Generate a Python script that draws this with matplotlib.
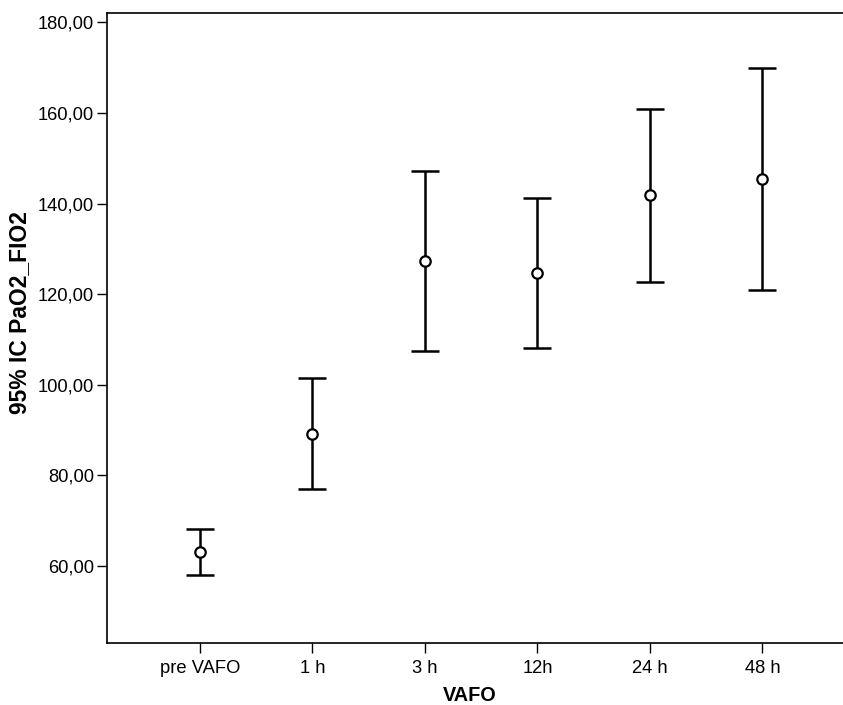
import numpy as np
import matplotlib.pyplot as plt

# categories and 95% CI values
groups = ['pre VAFO', '1 h', '3 h', '12h', '24 h', '48 h']
means = [63.1, 89.2, 127.3, 124.7, 141.8, 145.4]
lower = [58.0, 77.0, 107.4, 108.1, 122.7, 120.9]
upper = [68.1, 101.4, 147.1, 141.2, 160.8, 169.9]
yticks = [60, 80, 100, 120, 140, 160, 180]

plt.rcParams['font.family'] = ['Liberation Sans', 'DejaVu Sans']

fig = plt.figure(figsize=(8.43, 7.05), dpi=100)
ax = fig.add_axes([0.1266, 0.0884, 0.8734, 0.8927])

x = np.arange(len(groups))
m = np.array(means)
err = [m - np.array(lower), np.array(upper) - m]
ax.errorbar(x, m, yerr=err, fmt='none', ecolor='black', elinewidth=1.8,
            capsize=10, capthick=1.8)
ax.plot(x, m, 'o', markersize=7.5, markerfacecolor='white',
        markeredgecolor='black', markeredgewidth=1.6, zorder=3)

ax.set_xlim(-0.829, 5.716)
ax.set_ylim(43.07, 182.0)
ax.set_xticks(x)
ax.set_xticklabels(groups)
ax.set_yticks(yticks)
ax.set_yticklabels(['%d,00' % v for v in yticks])

ax.tick_params(axis='both', length=7, width=1, labelsize=13.2)
ax.tick_params(axis='y', pad=2)
ax.tick_params(axis='x', pad=5.5)
ax.spines['right'].set_visible(False)
for s in ['left', 'top', 'bottom']:
    ax.spines[s].set_linewidth(1.2)

ax.set_xlabel('VAFO', fontsize=14.3, fontweight='bold')
ax.xaxis.set_label_coords(0.493, -0.0688)
ax.xaxis.label.set_va('top')
ax.set_ylabel('95% IC PaO2_FIO2', fontsize=16.5, fontweight='bold')
ax.yaxis.set_label_coords(-0.103, 0.525)

fig.savefig('out.png', dpi=100)
